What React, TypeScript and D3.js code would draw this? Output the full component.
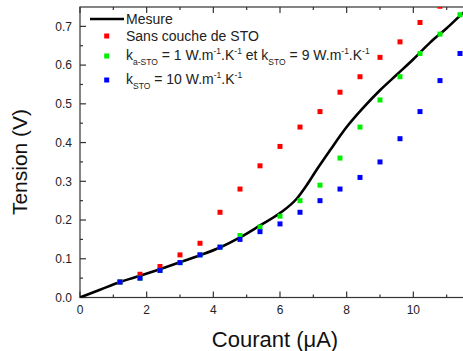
import React from "react";
import * as d3 from "d3";

const W = 463;
const H = 351;

// Mesure (solid line)
const mesureX = [0, 0.6, 1.2, 1.8, 2.4, 3.0, 3.6, 4.2, 4.8, 5.4, 6.0, 6.5, 6.8, 7.1, 7.5, 8.0, 8.5, 9.0, 9.5, 10.0, 10.5, 11.0, 11.5, 12.0];
const mesureY = [0, 0.02, 0.04, 0.056, 0.073, 0.091, 0.109, 0.129, 0.155, 0.186, 0.218, 0.255, 0.29, 0.33, 0.38, 0.44, 0.49, 0.535, 0.575, 0.615, 0.658, 0.695, 0.735, 0.77];

// Sans couche de STO (red)
const redX = [1.2, 1.8, 2.4, 3.0, 3.6, 4.2, 4.8, 5.4, 6.0, 6.6, 7.2, 7.8, 8.4, 9.0, 9.6, 10.2, 10.8];
const redY = [0.04, 0.06, 0.08, 0.11, 0.14, 0.22, 0.28, 0.34, 0.39, 0.44, 0.48, 0.53, 0.57, 0.62, 0.66, 0.71, 0.752];

// k a-STO = 1, k STO = 9 (green)
const greenX = [1.2, 1.8, 2.4, 3.0, 3.6, 4.2, 4.8, 5.4, 6.0, 6.6, 7.2, 7.8, 8.4, 9.0, 9.6, 10.2, 10.8, 11.4];
const greenY = [0.04, 0.05, 0.07, 0.09, 0.11, 0.13, 0.16, 0.182, 0.21, 0.25, 0.29, 0.36, 0.44, 0.51, 0.57, 0.63, 0.68, 0.73];

// k STO = 10 (blue)
const blueX = [1.2, 1.8, 2.4, 3.0, 3.6, 4.2, 4.8, 5.4, 6.0, 6.6, 7.2, 7.8, 8.4, 9.0, 9.6, 10.2, 10.8, 11.4];
const blueY = [0.04, 0.05, 0.07, 0.09, 0.11, 0.13, 0.15, 0.17, 0.19, 0.22, 0.25, 0.28, 0.31, 0.35, 0.41, 0.48, 0.56, 0.63];

const xMajorTicks = [0, 2, 4, 6, 8, 10, 12];
const xTickLabels = ["0", "2", "4", "6", "8", "10", ""];
const xMinorTicks = [1, 3, 5, 7, 9, 11];
const yMajorTicks = [0, 0.1, 0.2, 0.3, 0.4, 0.5, 0.6, 0.7];
const yMinorTicks = [0.05, 0.15, 0.25, 0.35, 0.45, 0.55, 0.65];

const FONT = "'Liberation Sans', Arial, Helvetica, sans-serif";

export default function App() {
  const left = 80, right = 480, top = 7, bottom = 297.5;
  const x = d3.scaleLinear().domain([0, 12]).range([left, right]);
  const y = d3.scaleLinear().domain([0, 0.75]).range([bottom, top]);

  const line = d3
    .line<number>()
    .x((_, i) => x(mesureX[i]))
    .y((d) => y(d))
    .curve(d3.curveMonotoneX);

  const axisColor = "#333";
  const ms = 5;

  const series = [
    { xs: redX, ys: redY, color: "#ff0000" },
    { xs: greenX, ys: greenY, color: "#00ee00" },
    { xs: blueX, ys: blueY, color: "#0000ff" },
  ];

  const sup = (t: string) => (
    <tspan fontSize={8.5} dy={-6}>{t}</tspan>
  );
  const back = (t: string) => (
    <tspan dy={6}>{t}</tspan>
  );

  return (
    <svg width={W} height={H} style={{ position: "absolute", left: 0, top: 0, background: "#fff" }} fontFamily={FONT}>
      <defs>
        <clipPath id="plotclip">
          <rect x={left} y={top} width={right - left} height={bottom - top} />
        </clipPath>
      </defs>
      <rect x={0} y={0} width={W} height={H} fill="#fff" />

      {/* frame */}
      <rect x={left} y={top} width={right - left} height={bottom - top} fill="none" stroke={axisColor} strokeWidth={1.2} />

      {/* x ticks bottom & top */}
      {xMajorTicks.map((t, i) => (
        <g key={"xM" + t}>
          <line x1={x(t)} x2={x(t)} y1={bottom} y2={bottom - 6} stroke={axisColor} strokeWidth={1.2} />
          <line x1={x(t)} x2={x(t)} y1={top} y2={top + 6} stroke={axisColor} strokeWidth={1.2} />
          {xTickLabels[i] && (
            <text x={x(t)} y={314} textAnchor="middle" fontSize={12} fill="#222">{xTickLabels[i]}</text>
          )}
        </g>
      ))}
      {xMinorTicks.map((t) => (
        <g key={"xm" + t}>
          <line x1={x(t)} x2={x(t)} y1={bottom} y2={bottom - 3} stroke={axisColor} strokeWidth={1.2} />
          <line x1={x(t)} x2={x(t)} y1={top} y2={top + 3} stroke={axisColor} strokeWidth={1.2} />
        </g>
      ))}

      {/* y ticks */}
      {yMajorTicks.map((t) => (
        <g key={"yM" + t}>
          <line x1={left} x2={left + 6} y1={y(t)} y2={y(t)} stroke={axisColor} strokeWidth={1.2} />
          <text x={72} y={y(t) + 4.2} textAnchor="end" fontSize={12} fill="#222">{d3.format(".1f")(t)}</text>
        </g>
      ))}
      {yMinorTicks.map((t) => (
        <line key={"ym" + t} x1={left} x2={left + 3} y1={y(t)} y2={y(t)} stroke={axisColor} strokeWidth={1.2} />
      ))}

      <g clipPath="url(#plotclip)">
        <path d={line(mesureY) || ""} fill="none" stroke="#000" strokeWidth={2.6} />
        {series.map((s, si) => (
          <g key={"s" + si}>
            {s.ys.map((v, i) => (
              <rect key={i} x={x(s.xs[i]) - ms / 2} y={y(v) - ms / 2} width={ms} height={ms} fill={s.color} />
            ))}
          </g>
        ))}
      </g>

      {/* legend */}
      <line x1={90} x2={124} y1={19} y2={19} stroke="#000" strokeWidth={2.6} />
      <text x={126} y={23.5} fontSize={14} fill="#222">Mesure</text>

      <rect x={106.7 - ms / 2} y={36 - ms / 2} width={ms} height={ms} fill="#ff0000" />
      <text x={126} y={40.7} fontSize={14} fill="#222">Sans couche de STO</text>

      <rect x={106.7 - ms / 2} y={56 - ms / 2} width={ms} height={ms} fill="#00ee00" />
      <text x={126} y={60} fontSize={14} fill="#222">
        k<tspan fontSize={8.5} dy={5}>a-STO</tspan>
        <tspan dy={-5}> = 1 W.m</tspan>
        {sup("-1")}
        {back(".K")}
        {sup("-1")}
        {back(" et k")}
        <tspan fontSize={8.5} dy={5}>STO</tspan>
        <tspan dy={-5}> = 9 W.m</tspan>
        {sup("-1")}
        {back(".K")}
        {sup("-1")}
      </text>

      <rect x={106.7 - ms / 2} y={80 - ms / 2} width={ms} height={ms} fill="#0000ff" />
      <text x={126} y={83.5} fontSize={14} fill="#222">
        k<tspan fontSize={8.5} dy={5}>STO</tspan>
        <tspan dy={-5}> = 10 W.m</tspan>
        {sup("-1")}
        {back(".K")}
        {sup("-1")}
      </text>

      {/* axis titles */}
      <text x={275} y={347} textAnchor="middle" fontSize={22} fill="#111">Courant (μA)</text>
      <text transform="translate(27,162) rotate(-90)" textAnchor="middle" fontSize={21} fill="#111">Tension (V)</text>
    </svg>
  );
}
